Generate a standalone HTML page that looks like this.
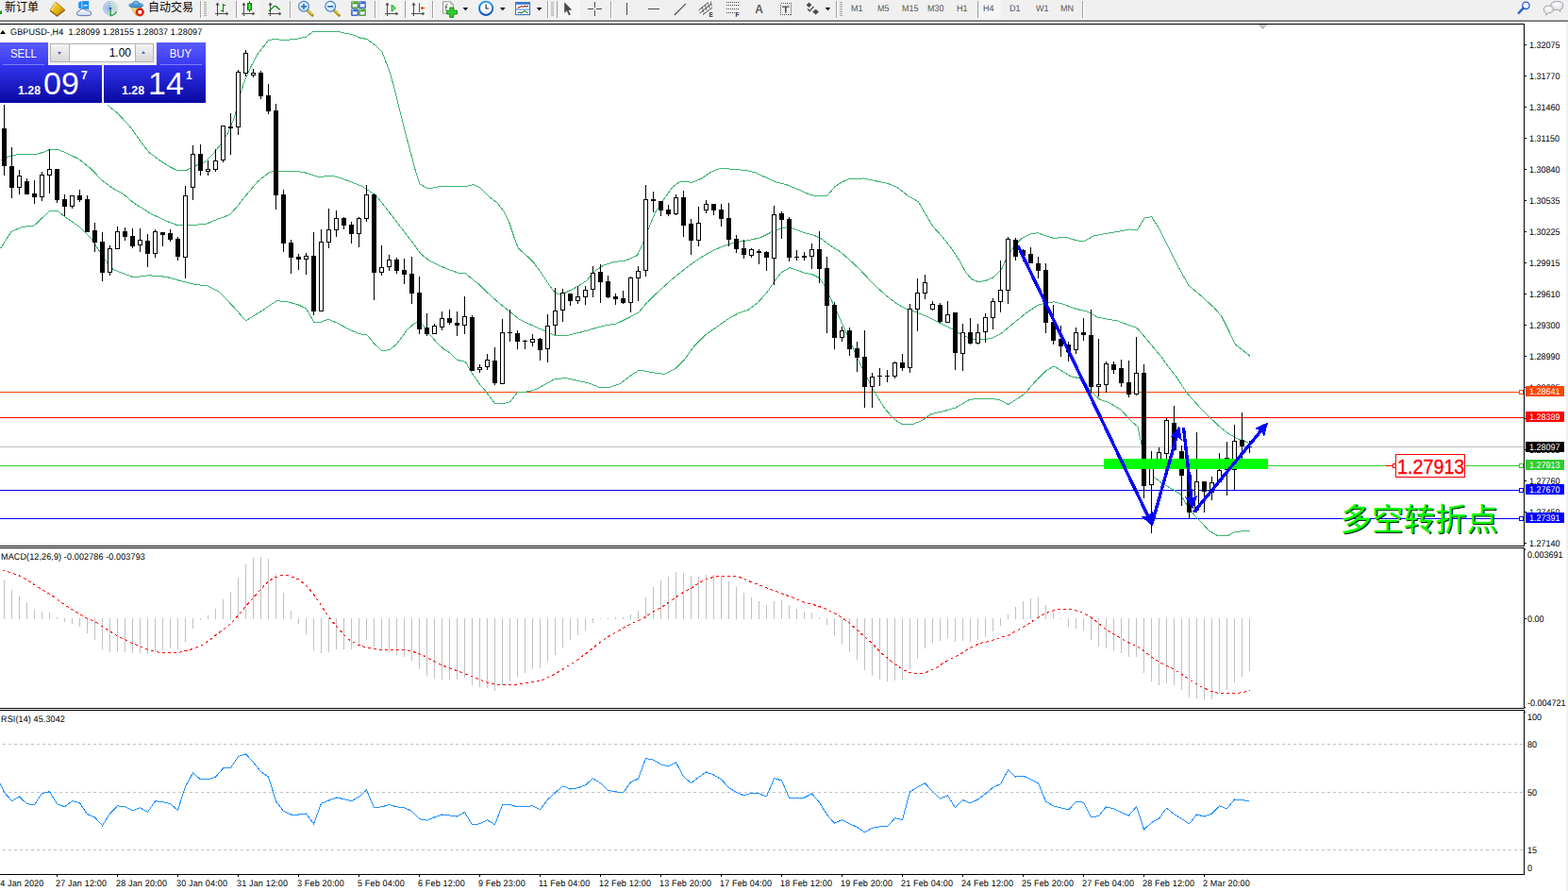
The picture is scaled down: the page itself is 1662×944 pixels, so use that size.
<!DOCTYPE html>
<html><head><meta charset="utf-8"><title>GBPUSD-,H4</title>
<style>
html,body{margin:0;padding:0;background:#fff;}
body{width:1662px;height:944px;position:relative;overflow:hidden;font-family:"Liberation Sans",sans-serif;}
.t{position:absolute;white-space:nowrap;font-family:"Liberation Sans",sans-serif;}
.abs{position:absolute;}
.s9{font-size:9.6px;line-height:10px;text-rendering:geometricPrecision;transform-origin:0 0;transform:scaleX(0.94);}
#toolbar{position:absolute;left:0;top:0;width:1662px;height:21px;background:#f0f0f0;}
.sep{position:absolute;top:1px;width:1px;height:18px;background:#a0a0a0;}
.sepw{position:absolute;top:1px;width:1px;height:18px;background:#fff;}
.grip{position:absolute;top:2px;width:3px;height:16px;background:repeating-linear-gradient(to bottom,#a8a8a8 0,#a8a8a8 1px,#f0f0f0 1px,#f0f0f0 2px);}
.sel{position:absolute;top:0;height:20px;background:#f8f8f8;background-image:repeating-conic-gradient(#ffffff 0 25%,#ececec 0 50%);background-size:2px 2px;}
.tf{position:absolute;top:5px;font-size:9.6px;line-height:10px;text-rendering:geometricPrecision;transform-origin:0 0;transform:scaleX(0.94);color:#555;font-family:"Liberation Sans",sans-serif;}
.btn{position:absolute;color:#fff;text-align:center;font-family:"Liberation Sans",sans-serif;}
</style></head><body>
<div id="toolbar"></div>
<div class="abs" style="left:0;top:20px;width:1662px;height:1px;background:#f6f6f6"></div>
<div class="abs" style="left:0;top:21px;width:1662px;height:1px;background:#a0a0a0"></div>
<div class="abs" style="left:0;top:22px;width:1662px;height:1px;background:#696969"></div>
<!-- toolbar separators / selections -->
<div class="sep" style="left:212px"></div><div class="sepw" style="left:213px"></div>
<div class="grip" style="left:216px"></div>
<div class="sel" style="left:251px;width:24px"></div>
<div class="sep" style="left:250px"></div>
<div class="sep" style="left:307px"></div><div class="sepw" style="left:308px"></div>
<div class="sep" style="left:397px"></div><div class="sepw" style="left:398px"></div>
<div class="sel" style="left:403px;width:24px"></div>
<div class="sep" style="left:429px"></div>
<div class="sel" style="left:431px;width:24px"></div>
<div class="sep" style="left:458px"></div><div class="sepw" style="left:459px"></div>
<div class="sep" style="left:580px"></div><div class="sepw" style="left:581px"></div>
<div class="grip" style="left:584px"></div>
<div class="sep" style="left:590px"></div>
<div class="sel" style="left:592px;width:23px"></div>
<div class="sep" style="left:647px"></div><div class="sepw" style="left:648px"></div>
<div class="sep" style="left:886px"></div><div class="sepw" style="left:887px"></div>
<div class="grip" style="left:890px"></div>
<div class="sep" style="left:1036px"></div>
<div class="sel" style="left:1038px;width:23px"></div>
<div class="sep" style="left:1147px"></div><div class="sepw" style="left:1148px"></div>
<div class="tf" style="left:902px">M1</div>
<div class="tf" style="left:930px">M5</div>
<div class="tf" style="left:956px">M15</div>
<div class="tf" style="left:983px">M30</div>
<div class="tf" style="left:1014px">H1</div>
<div class="tf" style="left:1042px">H4</div>
<div class="tf" style="left:1070px">D1</div>
<div class="tf" style="left:1098px">W1</div>
<div class="tf" style="left:1124px">MN</div>

<svg width="1662" height="944" viewBox="0 0 1662 944" shape-rendering="crispEdges" style="position:absolute;left:0;top:0"><rect x="0" y="415" width="1615" height="1" fill="#ff4500" />
<rect x="0" y="442" width="1615" height="1" fill="#ff0000" />
<rect x="0" y="493" width="1615" height="1" fill="#32cd32" />
<rect x="0" y="519" width="1615" height="1" fill="#0000ff" />
<rect x="0" y="549" width="1615" height="1" fill="#0000ff" />
<polyline points="114.4,111.6 125.7,120.9 138.2,134.6 150.7,152.2 158.2,161.7 170.7,170.9 180.7,177.2 188.2,180.7 197.0,180.9 203.3,177.2 218.3,170.9 225.8,163.4 234.5,152.2 242.1,139.6 248.3,124.6 253.3,104.6 258.3,88.3 265.8,70.8 273.3,57.0 284.6,42.5 290.9,41.5 300.9,42.5 313.4,41.5 324.7,39.0 332.2,33.3 345.9,33.3 361.0,34.0 376.0,37.5 380.5,39.8 389.4,41.6 398.3,48.3 405.0,55.0 413.9,78.3 422.8,112.8 431.7,148.4 440.6,181.8 445.0,195.1 453.9,200.0 465.0,197.8 494.0,197.4 501.7,195.6 508.4,198.5 518.4,208.5 527.3,215.1 534.0,224.0 539.7,235.6 545.2,252.1 549.4,263.1 561.8,274.1 565.9,278.5 572.8,287.9 581.0,300.3 588.4,310.6 595.9,311.8 608.5,305.6 621.0,298.0 631.0,286.8 641.0,280.5 650.5,277.6 663.0,276.1 675.5,270.6 681.8,256.9 688.1,240.6 694.3,225.6 703.1,211.8 713.1,198.0 720.6,192.5 726.9,192.0 733.1,193.5 743.1,189.3 753.1,182.5 763.2,178.5 773.2,179.0 790.7,180.5 800.7,183.0 810.7,187.5 820.7,192.5 833.2,195.5 845.8,200.6 858.3,206.3 867.0,207.8 877.0,207.3 884.6,198.0 892.1,193.0 900.8,189.3 915.8,189.0 928.4,191.8 940.9,194.3 950.9,198.5 963.4,208.1 973.4,213.6 980.9,226.8 988.4,239.3 998.5,250.6 1008.5,263.1 1016.0,274.4 1023.5,288.2 1029.7,295.7 1037.2,298.7 1046.0,296.9 1053.2,293.7 1061.7,285.2 1068.0,270.4 1074.4,261.9 1082.9,252.4 1091.3,248.2 1099.8,246.7 1108.3,249.7 1116.8,252.4 1129.5,251.3 1140.1,254.5 1148.6,256.0 1159.1,249.9 1171.9,247.5 1184.6,245.4 1197.3,242.9 1205.3,243.9 1213.2,230.8 1220.6,229.7 1229.1,242.9 1237.5,259.8 1248.1,281.0 1259.8,302.2 1273.5,313.8 1286.3,325.5 1294.7,335.0 1303.2,352.0 1309.6,365.3 1315.9,370.0 1325.0,377.3" fill="none" stroke="#3cb371" stroke-width="1" />
<polyline points="0.5,170.2 8.8,166.1 17.0,164.0 37.7,163.6 46.0,161.3 52.8,158.5 61.8,158.5 69.4,161.7 83.1,168.2 96.9,179.2 107.9,190.9 119.0,199.2 130.5,205.4 141.5,214.8 159.5,226.2 177.0,234.4 188.5,238.8 201.1,238.8 218.5,237.3 229.5,232.7 243.5,227.5 250.5,220.0 258.3,209.7 273.3,192.2 285.9,182.2 300.9,181.0 320.9,182.2 338.4,187.7 350.9,186.0 361.0,188.5 383.5,197.2 398.5,207.2 410.3,221.8 424.0,239.7 437.8,257.6 446.0,268.9 455.0,276.1 470.9,283.7 486.5,289.5 493.8,290.0 503.3,298.0 506.7,300.3 515.8,309.3 528.4,320.6 540.9,330.6 550.9,338.6 565.9,345.6 578.4,351.1 588.4,355.6 601.0,355.4 616.0,351.9 631.0,347.6 643.5,344.4 653.0,343.2 665.5,337.0 676.8,331.2 685.6,320.7 698.1,308.7 713.1,295.2 728.1,283.2 740.6,274.4 753.1,266.9 765.7,261.1 778.2,256.9 790.7,255.1 805.7,251.9 818.2,245.6 828.2,241.9 835.7,240.6 843.3,243.1 853.3,246.9 863.3,249.4 870.8,253.1 880.8,260.6 890.8,266.9 900.8,275.6 910.8,284.9 920.9,295.7 930.9,305.7 940.9,314.4 950.9,322.0 960.9,327.7 970.9,330.7 983.4,335.7 996.0,342.2 1008.0,348.0 1020.0,355.0 1031.0,359.5 1041.5,360.0 1051.1,358.3 1061.7,353.0 1074.4,342.4 1087.1,331.9 1099.8,323.4 1108.3,321.3 1116.8,319.8 1125.2,321.7 1140.1,327.2 1152.8,330.2 1163.4,336.1 1171.9,337.8 1184.6,339.9 1195.2,344.1 1204.7,347.1 1210.0,353.0 1220.6,365.8 1231.2,378.5 1239.7,390.1 1247.1,399.7 1258.4,416.8 1269.8,429.5 1280.5,440.5 1291.7,451.1 1302.3,459.6 1312.9,465.4 1325.1,469.6" fill="none" stroke="#3cb371" stroke-width="1" />
<polyline points="0.5,263.3 11.9,245.5 23.4,240.4 36.1,239.1 53.1,223.1 60.8,223.1 69.2,230.2 84.4,240.4 97.1,253.1 109.9,273.4 120.0,285.6 141.6,293.8 158.2,291.8 176.0,293.3 188.7,296.8 206.5,301.4 219.2,302.7 231.9,309.0 240.5,317.6 248.0,325.6 260.5,339.8 275.5,330.6 293.1,318.8 303.1,319.3 315.6,322.6 324.4,326.8 333.1,341.9 340.6,341.1 348.1,338.1 358.1,342.6 370.7,349.4 380.7,353.6 389.4,355.1 395.7,363.1 404.5,371.6 413.2,370.6 420.5,364.4 426.2,356.8 431.9,349.1 437.7,343.9 441.9,341.5 448.1,343.9 453.9,352.9 458.6,357.7 463.4,363.4 471.0,370.5 475.8,373.1 484.6,381.4 493.3,383.2 499.6,394.4 508.3,406.9 515.8,415.7 524.6,427.7 533.4,427.7 540.9,425.7 548.4,415.7 559.6,414.9 568.4,412.4 578.4,406.9 588.4,401.4 601.0,400.7 613.5,403.7 623.5,405.7 636.0,410.7 646.0,410.2 656.5,406.9 670.5,396.5 678.0,392.0 690.5,394.5 704.3,396.5 715.6,390.8 725.6,380.8 735.6,367.0 748.1,354.5 760.7,345.7 773.2,337.0 783.2,331.5 793.2,328.2 803.2,320.7 813.2,309.4 820.7,298.2 828.2,288.7 837.0,283.7 843.3,285.7 853.3,289.4 860.8,290.7 868.3,294.4 874.5,303.2 880.8,316.9 887.1,330.7 893.3,344.5 900.8,360.8 908.3,378.3 915.5,393.1 925.5,413.1 938.0,433.1 948.1,444.4 956.8,449.9 968.1,449.4 978.1,445.1 986.9,438.6 1000.6,435.6 1013.1,431.9 1028.2,423.1 1043.2,422.6 1058.2,423.1 1068.7,428.6 1085.7,417.6 1098.2,403.1 1108.3,393.1 1117.0,388.0 1125.8,393.1 1134.5,398.6 1148.3,401.8 1155.8,414.3 1165.8,423.1 1175.8,426.8 1188.4,434.4 1198.4,445.6 1205.9,451.9 1208.9,465.6 1210.9,475.7 1216.5,492.5 1223.4,505.7 1233.4,513.2 1243.4,518.7 1250.9,523.2 1258.4,535.7 1266.0,545.7 1273.5,553.3 1281.0,562.0 1291.0,567.8 1301.0,567.8 1308.5,563.8 1316.5,562.8 1325.0,562.0" fill="none" stroke="#3cb371" stroke-width="1" />
<rect x="0" y="473" width="1615" height="1" fill="#c0c0c0" />
<rect x="4" y="111" width="1" height="75" fill="#000" />
<rect x="2" y="136" width="5" height="40" fill="#000" />
<rect x="12" y="156" width="1" height="54" fill="#000" />
<rect x="10" y="176" width="5" height="23" fill="#000" />
<rect x="20" y="180" width="1" height="26" fill="#000" />
<rect x="18" y="186" width="5" height="13" fill="#000" />
<rect x="19" y="187" width="3" height="11" fill="#fff" />
<rect x="28" y="189" width="1" height="17" fill="#000" />
<rect x="26" y="192" width="5" height="14" fill="#000" />
<rect x="36" y="191" width="1" height="25" fill="#000" />
<rect x="34" y="205" width="5" height="4" fill="#000" />
<rect x="44" y="182" width="1" height="31" fill="#000" />
<rect x="42" y="185" width="5" height="24" fill="#000" />
<rect x="43" y="186" width="3" height="22" fill="#fff" />
<rect x="52" y="158" width="1" height="47" fill="#000" />
<rect x="50" y="179" width="5" height="7" fill="#000" />
<rect x="51" y="180" width="3" height="5" fill="#fff" />
<rect x="60" y="179" width="1" height="36" fill="#000" />
<rect x="58" y="179" width="5" height="33" fill="#000" />
<rect x="68" y="206" width="1" height="23" fill="#000" />
<rect x="66" y="211" width="5" height="8" fill="#000" />
<rect x="76" y="207" width="1" height="14" fill="#000" />
<rect x="74" y="207" width="5" height="12" fill="#000" />
<rect x="75" y="208" width="3" height="10" fill="#fff" />
<rect x="84" y="201" width="1" height="13" fill="#000" />
<rect x="82" y="207" width="5" height="5" fill="#000" />
<rect x="92" y="207" width="1" height="39" fill="#000" />
<rect x="90" y="211" width="5" height="35" fill="#000" />
<rect x="100" y="236" width="1" height="31" fill="#000" />
<rect x="98" y="244" width="5" height="13" fill="#000" />
<rect x="108" y="246" width="1" height="52" fill="#000" />
<rect x="106" y="256" width="5" height="33" fill="#000" />
<rect x="116" y="260" width="1" height="32" fill="#000" />
<rect x="114" y="263" width="5" height="26" fill="#000" />
<rect x="115" y="264" width="3" height="24" fill="#fff" />
<rect x="124" y="240" width="1" height="24" fill="#000" />
<rect x="122" y="245" width="5" height="19" fill="#000" />
<rect x="123" y="246" width="3" height="17" fill="#fff" />
<rect x="132" y="241" width="1" height="14" fill="#000" />
<rect x="130" y="245" width="5" height="6" fill="#000" />
<rect x="140" y="242" width="1" height="21" fill="#000" />
<rect x="138" y="250" width="5" height="11" fill="#000" />
<rect x="148" y="242" width="1" height="25" fill="#000" />
<rect x="146" y="254" width="5" height="6" fill="#000" />
<rect x="147" y="255" width="3" height="4" fill="#fff" />
<rect x="156" y="248" width="1" height="35" fill="#000" />
<rect x="154" y="255" width="5" height="14" fill="#000" />
<rect x="164" y="243" width="1" height="30" fill="#000" />
<rect x="162" y="245" width="5" height="24" fill="#000" />
<rect x="163" y="246" width="3" height="22" fill="#fff" />
<rect x="172" y="246" width="1" height="15" fill="#000" />
<rect x="170" y="246" width="5" height="3" fill="#000" />
<rect x="180" y="243" width="1" height="13" fill="#000" />
<rect x="178" y="247" width="5" height="7" fill="#000" />
<rect x="188" y="251" width="1" height="25" fill="#000" />
<rect x="186" y="253" width="5" height="19" fill="#000" />
<rect x="196" y="197" width="1" height="98" fill="#000" />
<rect x="194" y="207" width="5" height="66" fill="#000" />
<rect x="195" y="208" width="3" height="64" fill="#fff" />
<rect x="204" y="154" width="1" height="58" fill="#000" />
<rect x="202" y="163" width="5" height="36" fill="#000" />
<rect x="203" y="164" width="3" height="34" fill="#fff" />
<rect x="212" y="153" width="1" height="33" fill="#000" />
<rect x="210" y="163" width="5" height="18" fill="#000" />
<rect x="220" y="170" width="1" height="16" fill="#000" />
<rect x="218" y="179" width="5" height="3" fill="#000" />
<rect x="219" y="180" width="3" height="1" fill="#fff" />
<rect x="228" y="158" width="1" height="24" fill="#000" />
<rect x="226" y="170" width="5" height="10" fill="#000" />
<rect x="227" y="171" width="3" height="8" fill="#fff" />
<rect x="236" y="133" width="1" height="39" fill="#000" />
<rect x="234" y="133" width="5" height="37" fill="#000" />
<rect x="235" y="134" width="3" height="35" fill="#fff" />
<rect x="244" y="120" width="1" height="44" fill="#000" />
<rect x="242" y="134" width="5" height="2" fill="#000" />
<rect x="252" y="74" width="1" height="69" fill="#000" />
<rect x="250" y="76" width="5" height="59" fill="#000" />
<rect x="251" y="77" width="3" height="57" fill="#fff" />
<rect x="260" y="53" width="1" height="28" fill="#000" />
<rect x="258" y="56" width="5" height="22" fill="#000" />
<rect x="259" y="57" width="3" height="20" fill="#fff" />
<rect x="268" y="73" width="1" height="9" fill="#000" />
<rect x="266" y="77" width="5" height="3" fill="#000" />
<rect x="267" y="78" width="3" height="1" fill="#fff" />
<rect x="276" y="75" width="1" height="30" fill="#000" />
<rect x="274" y="77" width="5" height="25" fill="#000" />
<rect x="284" y="89" width="1" height="32" fill="#000" />
<rect x="282" y="101" width="5" height="17" fill="#000" />
<rect x="292" y="110" width="1" height="112" fill="#000" />
<rect x="290" y="117" width="5" height="90" fill="#000" />
<rect x="300" y="201" width="1" height="66" fill="#000" />
<rect x="298" y="206" width="5" height="52" fill="#000" />
<rect x="308" y="254" width="1" height="36" fill="#000" />
<rect x="306" y="257" width="5" height="16" fill="#000" />
<rect x="316" y="269" width="1" height="17" fill="#000" />
<rect x="314" y="272" width="5" height="3" fill="#000" />
<rect x="324" y="268" width="1" height="23" fill="#000" />
<rect x="322" y="271" width="5" height="4" fill="#000" />
<rect x="323" y="272" width="3" height="2" fill="#fff" />
<rect x="332" y="246" width="1" height="88" fill="#000" />
<rect x="330" y="271" width="5" height="59" fill="#000" />
<rect x="340" y="243" width="1" height="87" fill="#000" />
<rect x="338" y="256" width="5" height="74" fill="#000" />
<rect x="339" y="257" width="3" height="72" fill="#fff" />
<rect x="348" y="221" width="1" height="42" fill="#000" />
<rect x="346" y="243" width="5" height="14" fill="#000" />
<rect x="347" y="244" width="3" height="12" fill="#fff" />
<rect x="356" y="223" width="1" height="28" fill="#000" />
<rect x="354" y="231" width="5" height="13" fill="#000" />
<rect x="355" y="232" width="3" height="11" fill="#fff" />
<rect x="364" y="230" width="1" height="13" fill="#000" />
<rect x="362" y="231" width="5" height="8" fill="#000" />
<rect x="372" y="235" width="1" height="23" fill="#000" />
<rect x="370" y="238" width="5" height="10" fill="#000" />
<rect x="380" y="230" width="1" height="32" fill="#000" />
<rect x="378" y="231" width="5" height="17" fill="#000" />
<rect x="379" y="232" width="3" height="15" fill="#fff" />
<rect x="388" y="196" width="1" height="39" fill="#000" />
<rect x="386" y="206" width="5" height="26" fill="#000" />
<rect x="387" y="207" width="3" height="24" fill="#fff" />
<rect x="396" y="205" width="1" height="113" fill="#000" />
<rect x="394" y="206" width="5" height="83" fill="#000" />
<rect x="404" y="260" width="1" height="32" fill="#000" />
<rect x="402" y="283" width="5" height="6" fill="#000" />
<rect x="403" y="284" width="3" height="4" fill="#fff" />
<rect x="412" y="270" width="1" height="17" fill="#000" />
<rect x="410" y="275" width="5" height="8" fill="#000" />
<rect x="411" y="276" width="3" height="6" fill="#fff" />
<rect x="420" y="273" width="1" height="17" fill="#000" />
<rect x="418" y="275" width="5" height="12" fill="#000" />
<rect x="428" y="274" width="1" height="27" fill="#000" />
<rect x="426" y="286" width="5" height="5" fill="#000" />
<rect x="436" y="272" width="1" height="50" fill="#000" />
<rect x="434" y="290" width="5" height="21" fill="#000" />
<rect x="444" y="293" width="1" height="61" fill="#000" />
<rect x="442" y="310" width="5" height="39" fill="#000" />
<rect x="452" y="332" width="1" height="24" fill="#000" />
<rect x="450" y="347" width="5" height="7" fill="#000" />
<rect x="460" y="343" width="1" height="11" fill="#000" />
<rect x="458" y="345" width="5" height="9" fill="#000" />
<rect x="459" y="346" width="3" height="7" fill="#fff" />
<rect x="468" y="330" width="1" height="20" fill="#000" />
<rect x="466" y="337" width="5" height="10" fill="#000" />
<rect x="467" y="338" width="3" height="8" fill="#fff" />
<rect x="476" y="328" width="1" height="16" fill="#000" />
<rect x="474" y="337" width="5" height="5" fill="#000" />
<rect x="484" y="330" width="1" height="26" fill="#000" />
<rect x="482" y="342" width="5" height="3" fill="#000" />
<rect x="492" y="314" width="1" height="40" fill="#000" />
<rect x="490" y="335" width="5" height="10" fill="#000" />
<rect x="491" y="336" width="3" height="8" fill="#fff" />
<rect x="500" y="334" width="1" height="59" fill="#000" />
<rect x="498" y="336" width="5" height="57" fill="#000" />
<rect x="508" y="386" width="1" height="9" fill="#000" />
<rect x="506" y="389" width="5" height="3" fill="#000" />
<rect x="507" y="390" width="3" height="1" fill="#fff" />
<rect x="516" y="375" width="1" height="17" fill="#000" />
<rect x="514" y="381" width="5" height="8" fill="#000" />
<rect x="515" y="382" width="3" height="6" fill="#fff" />
<rect x="524" y="368" width="1" height="40" fill="#000" />
<rect x="522" y="382" width="5" height="24" fill="#000" />
<rect x="532" y="338" width="1" height="69" fill="#000" />
<rect x="530" y="352" width="5" height="55" fill="#000" />
<rect x="531" y="353" width="3" height="53" fill="#fff" />
<rect x="540" y="328" width="1" height="34" fill="#000" />
<rect x="538" y="352" width="5" height="1" fill="#000" />
<rect x="548" y="350" width="1" height="20" fill="#000" />
<rect x="546" y="353" width="5" height="9" fill="#000" />
<rect x="556" y="360" width="1" height="10" fill="#000" />
<rect x="554" y="361" width="5" height="1" fill="#000" />
<rect x="564" y="354" width="1" height="13" fill="#000" />
<rect x="562" y="359" width="5" height="4" fill="#000" />
<rect x="563" y="360" width="3" height="2" fill="#fff" />
<rect x="572" y="358" width="1" height="24" fill="#000" />
<rect x="570" y="359" width="5" height="12" fill="#000" />
<rect x="580" y="333" width="1" height="51" fill="#000" />
<rect x="578" y="345" width="5" height="25" fill="#000" />
<rect x="579" y="346" width="3" height="23" fill="#fff" />
<rect x="588" y="305" width="1" height="50" fill="#000" />
<rect x="586" y="329" width="5" height="16" fill="#000" />
<rect x="587" y="330" width="3" height="14" fill="#fff" />
<rect x="596" y="306" width="1" height="35" fill="#000" />
<rect x="594" y="310" width="5" height="19" fill="#000" />
<rect x="595" y="311" width="3" height="17" fill="#fff" />
<rect x="604" y="311" width="1" height="13" fill="#000" />
<rect x="602" y="311" width="5" height="8" fill="#000" />
<rect x="612" y="303" width="1" height="19" fill="#000" />
<rect x="610" y="314" width="5" height="5" fill="#000" />
<rect x="611" y="315" width="3" height="3" fill="#fff" />
<rect x="620" y="303" width="1" height="20" fill="#000" />
<rect x="618" y="307" width="5" height="8" fill="#000" />
<rect x="619" y="308" width="3" height="6" fill="#fff" />
<rect x="628" y="282" width="1" height="33" fill="#000" />
<rect x="626" y="289" width="5" height="18" fill="#000" />
<rect x="627" y="290" width="3" height="16" fill="#fff" />
<rect x="636" y="280" width="1" height="41" fill="#000" />
<rect x="634" y="288" width="5" height="11" fill="#000" />
<rect x="644" y="292" width="1" height="24" fill="#000" />
<rect x="642" y="298" width="5" height="17" fill="#000" />
<rect x="652" y="311" width="1" height="12" fill="#000" />
<rect x="650" y="314" width="5" height="3" fill="#000" />
<rect x="660" y="308" width="1" height="14" fill="#000" />
<rect x="658" y="316" width="5" height="5" fill="#000" />
<rect x="668" y="293" width="1" height="38" fill="#000" />
<rect x="666" y="294" width="5" height="27" fill="#000" />
<rect x="667" y="295" width="3" height="25" fill="#fff" />
<rect x="676" y="282" width="1" height="37" fill="#000" />
<rect x="674" y="287" width="5" height="8" fill="#000" />
<rect x="675" y="288" width="3" height="6" fill="#fff" />
<rect x="684" y="196" width="1" height="97" fill="#000" />
<rect x="682" y="211" width="5" height="76" fill="#000" />
<rect x="683" y="212" width="3" height="74" fill="#fff" />
<rect x="692" y="203" width="1" height="22" fill="#000" />
<rect x="690" y="211" width="5" height="2" fill="#000" />
<rect x="700" y="213" width="1" height="16" fill="#000" />
<rect x="698" y="213" width="5" height="10" fill="#000" />
<rect x="708" y="217" width="1" height="12" fill="#000" />
<rect x="706" y="222" width="5" height="5" fill="#000" />
<rect x="716" y="206" width="1" height="22" fill="#000" />
<rect x="714" y="209" width="5" height="18" fill="#000" />
<rect x="715" y="210" width="3" height="16" fill="#fff" />
<rect x="724" y="202" width="1" height="49" fill="#000" />
<rect x="722" y="209" width="5" height="30" fill="#000" />
<rect x="732" y="232" width="1" height="38" fill="#000" />
<rect x="730" y="237" width="5" height="18" fill="#000" />
<rect x="740" y="219" width="1" height="42" fill="#000" />
<rect x="738" y="236" width="5" height="19" fill="#000" />
<rect x="739" y="237" width="3" height="17" fill="#fff" />
<rect x="748" y="212" width="1" height="14" fill="#000" />
<rect x="746" y="216" width="5" height="7" fill="#000" />
<rect x="747" y="217" width="3" height="5" fill="#fff" />
<rect x="756" y="216" width="1" height="12" fill="#000" />
<rect x="754" y="216" width="5" height="7" fill="#000" />
<rect x="764" y="216" width="1" height="24" fill="#000" />
<rect x="762" y="222" width="5" height="10" fill="#000" />
<rect x="772" y="215" width="1" height="46" fill="#000" />
<rect x="770" y="231" width="5" height="23" fill="#000" />
<rect x="780" y="249" width="1" height="19" fill="#000" />
<rect x="778" y="253" width="5" height="11" fill="#000" />
<rect x="788" y="254" width="1" height="20" fill="#000" />
<rect x="786" y="263" width="5" height="7" fill="#000" />
<rect x="796" y="263" width="1" height="10" fill="#000" />
<rect x="794" y="264" width="5" height="7" fill="#000" />
<rect x="795" y="265" width="3" height="5" fill="#fff" />
<rect x="804" y="264" width="1" height="16" fill="#000" />
<rect x="802" y="266" width="5" height="2" fill="#000" />
<rect x="812" y="266" width="1" height="21" fill="#000" />
<rect x="810" y="267" width="5" height="6" fill="#000" />
<rect x="820" y="218" width="1" height="84" fill="#000" />
<rect x="818" y="227" width="5" height="47" fill="#000" />
<rect x="819" y="228" width="3" height="45" fill="#fff" />
<rect x="828" y="224" width="1" height="29" fill="#000" />
<rect x="826" y="226" width="5" height="7" fill="#000" />
<rect x="836" y="230" width="1" height="47" fill="#000" />
<rect x="834" y="232" width="5" height="41" fill="#000" />
<rect x="844" y="265" width="1" height="11" fill="#000" />
<rect x="842" y="272" width="5" height="1" fill="#000" />
<rect x="852" y="267" width="1" height="9" fill="#000" />
<rect x="850" y="271" width="5" height="2" fill="#000" />
<rect x="860" y="258" width="1" height="27" fill="#000" />
<rect x="858" y="264" width="5" height="8" fill="#000" />
<rect x="859" y="265" width="3" height="6" fill="#fff" />
<rect x="868" y="245" width="1" height="55" fill="#000" />
<rect x="866" y="264" width="5" height="21" fill="#000" />
<rect x="876" y="272" width="1" height="81" fill="#000" />
<rect x="874" y="284" width="5" height="40" fill="#000" />
<rect x="884" y="320" width="1" height="50" fill="#000" />
<rect x="882" y="323" width="5" height="35" fill="#000" />
<rect x="892" y="346" width="1" height="16" fill="#000" />
<rect x="890" y="350" width="5" height="8" fill="#000" />
<rect x="891" y="351" width="3" height="6" fill="#fff" />
<rect x="900" y="347" width="1" height="30" fill="#000" />
<rect x="898" y="350" width="5" height="20" fill="#000" />
<rect x="908" y="362" width="1" height="32" fill="#000" />
<rect x="906" y="369" width="5" height="10" fill="#000" />
<rect x="916" y="350" width="1" height="82" fill="#000" />
<rect x="914" y="378" width="5" height="32" fill="#000" />
<rect x="924" y="395" width="1" height="37" fill="#000" />
<rect x="922" y="399" width="5" height="11" fill="#000" />
<rect x="923" y="400" width="3" height="9" fill="#fff" />
<rect x="932" y="390" width="1" height="19" fill="#000" />
<rect x="930" y="398" width="5" height="1" fill="#000" />
<rect x="940" y="392" width="1" height="13" fill="#000" />
<rect x="938" y="398" width="5" height="1" fill="#000" />
<rect x="948" y="383" width="1" height="18" fill="#000" />
<rect x="946" y="384" width="5" height="15" fill="#000" />
<rect x="947" y="385" width="3" height="13" fill="#fff" />
<rect x="956" y="375" width="1" height="18" fill="#000" />
<rect x="954" y="384" width="5" height="6" fill="#000" />
<rect x="964" y="322" width="1" height="73" fill="#000" />
<rect x="962" y="327" width="5" height="63" fill="#000" />
<rect x="963" y="328" width="3" height="61" fill="#fff" />
<rect x="972" y="295" width="1" height="56" fill="#000" />
<rect x="970" y="310" width="5" height="18" fill="#000" />
<rect x="971" y="311" width="3" height="16" fill="#fff" />
<rect x="980" y="291" width="1" height="26" fill="#000" />
<rect x="978" y="299" width="5" height="12" fill="#000" />
<rect x="979" y="300" width="3" height="10" fill="#fff" />
<rect x="988" y="319" width="1" height="10" fill="#000" />
<rect x="986" y="322" width="5" height="6" fill="#000" />
<rect x="987" y="323" width="3" height="4" fill="#fff" />
<rect x="996" y="321" width="1" height="21" fill="#000" />
<rect x="994" y="323" width="5" height="18" fill="#000" />
<rect x="1004" y="319" width="1" height="23" fill="#000" />
<rect x="1002" y="333" width="5" height="9" fill="#000" />
<rect x="1003" y="334" width="3" height="7" fill="#fff" />
<rect x="1012" y="331" width="1" height="61" fill="#000" />
<rect x="1010" y="331" width="5" height="43" fill="#000" />
<rect x="1020" y="343" width="1" height="50" fill="#000" />
<rect x="1018" y="352" width="5" height="23" fill="#000" />
<rect x="1019" y="353" width="3" height="21" fill="#fff" />
<rect x="1028" y="337" width="1" height="28" fill="#000" />
<rect x="1026" y="352" width="5" height="12" fill="#000" />
<rect x="1036" y="343" width="1" height="22" fill="#000" />
<rect x="1034" y="352" width="5" height="12" fill="#000" />
<rect x="1035" y="353" width="3" height="10" fill="#fff" />
<rect x="1044" y="332" width="1" height="31" fill="#000" />
<rect x="1042" y="336" width="5" height="16" fill="#000" />
<rect x="1043" y="337" width="3" height="14" fill="#fff" />
<rect x="1052" y="316" width="1" height="33" fill="#000" />
<rect x="1050" y="319" width="5" height="18" fill="#000" />
<rect x="1051" y="320" width="3" height="16" fill="#fff" />
<rect x="1060" y="276" width="1" height="55" fill="#000" />
<rect x="1058" y="307" width="5" height="13" fill="#000" />
<rect x="1059" y="308" width="3" height="11" fill="#fff" />
<rect x="1068" y="251" width="1" height="71" fill="#000" />
<rect x="1066" y="253" width="5" height="55" fill="#000" />
<rect x="1067" y="254" width="3" height="53" fill="#fff" />
<rect x="1076" y="252" width="1" height="24" fill="#000" />
<rect x="1074" y="254" width="5" height="18" fill="#000" />
<rect x="1084" y="264" width="1" height="13" fill="#000" />
<rect x="1082" y="265" width="5" height="6" fill="#000" />
<rect x="1092" y="262" width="1" height="17" fill="#000" />
<rect x="1090" y="269" width="5" height="10" fill="#000" />
<rect x="1100" y="272" width="1" height="23" fill="#000" />
<rect x="1098" y="279" width="5" height="8" fill="#000" />
<rect x="1108" y="279" width="1" height="74" fill="#000" />
<rect x="1106" y="286" width="5" height="56" fill="#000" />
<rect x="1116" y="323" width="1" height="42" fill="#000" />
<rect x="1114" y="341" width="5" height="20" fill="#000" />
<rect x="1124" y="345" width="1" height="33" fill="#000" />
<rect x="1122" y="359" width="5" height="8" fill="#000" />
<rect x="1132" y="362" width="1" height="21" fill="#000" />
<rect x="1130" y="365" width="5" height="8" fill="#000" />
<rect x="1140" y="347" width="1" height="28" fill="#000" />
<rect x="1138" y="352" width="5" height="19" fill="#000" />
<rect x="1139" y="353" width="3" height="17" fill="#fff" />
<rect x="1148" y="337" width="1" height="24" fill="#000" />
<rect x="1146" y="352" width="5" height="3" fill="#000" />
<rect x="1156" y="328" width="1" height="89" fill="#000" />
<rect x="1154" y="355" width="5" height="55" fill="#000" />
<rect x="1164" y="359" width="1" height="61" fill="#000" />
<rect x="1162" y="407" width="5" height="3" fill="#000" />
<rect x="1163" y="408" width="3" height="1" fill="#fff" />
<rect x="1172" y="383" width="1" height="33" fill="#000" />
<rect x="1170" y="385" width="5" height="23" fill="#000" />
<rect x="1171" y="386" width="3" height="21" fill="#fff" />
<rect x="1180" y="383" width="1" height="13" fill="#000" />
<rect x="1178" y="386" width="5" height="6" fill="#000" />
<rect x="1188" y="381" width="1" height="29" fill="#000" />
<rect x="1186" y="390" width="5" height="16" fill="#000" />
<rect x="1196" y="382" width="1" height="39" fill="#000" />
<rect x="1194" y="405" width="5" height="13" fill="#000" />
<rect x="1204" y="357" width="1" height="62" fill="#000" />
<rect x="1202" y="395" width="5" height="23" fill="#000" />
<rect x="1203" y="396" width="3" height="21" fill="#fff" />
<rect x="1212" y="386" width="1" height="142" fill="#000" />
<rect x="1210" y="395" width="5" height="120" fill="#000" />
<rect x="1220" y="478" width="1" height="87" fill="#000" />
<rect x="1218" y="491" width="5" height="23" fill="#000" />
<rect x="1219" y="492" width="3" height="21" fill="#fff" />
<rect x="1228" y="474" width="1" height="20" fill="#000" />
<rect x="1226" y="479" width="5" height="12" fill="#000" />
<rect x="1227" y="480" width="3" height="10" fill="#fff" />
<rect x="1236" y="443" width="1" height="46" fill="#000" />
<rect x="1234" y="445" width="5" height="36" fill="#000" />
<rect x="1235" y="446" width="3" height="34" fill="#fff" />
<rect x="1244" y="430" width="1" height="47" fill="#000" />
<rect x="1242" y="448" width="5" height="29" fill="#000" />
<rect x="1252" y="472" width="1" height="64" fill="#000" />
<rect x="1250" y="478" width="5" height="26" fill="#000" />
<rect x="1260" y="503" width="1" height="46" fill="#000" />
<rect x="1258" y="503" width="5" height="40" fill="#000" />
<rect x="1268" y="458" width="1" height="85" fill="#000" />
<rect x="1266" y="510" width="5" height="31" fill="#000" />
<rect x="1267" y="511" width="3" height="29" fill="#fff" />
<rect x="1276" y="510" width="1" height="33" fill="#000" />
<rect x="1274" y="510" width="5" height="11" fill="#000" />
<rect x="1284" y="505" width="1" height="25" fill="#000" />
<rect x="1282" y="511" width="5" height="11" fill="#000" />
<rect x="1283" y="512" width="3" height="9" fill="#fff" />
<rect x="1292" y="480" width="1" height="32" fill="#000" />
<rect x="1290" y="498" width="5" height="13" fill="#000" />
<rect x="1291" y="499" width="3" height="11" fill="#fff" />
<rect x="1300" y="468" width="1" height="57" fill="#000" />
<rect x="1298" y="485" width="5" height="13" fill="#000" />
<rect x="1299" y="486" width="3" height="11" fill="#fff" />
<rect x="1308" y="450" width="1" height="69" fill="#000" />
<rect x="1306" y="467" width="5" height="31" fill="#000" />
<rect x="1307" y="468" width="3" height="29" fill="#fff" />
<rect x="1316" y="437" width="1" height="49" fill="#000" />
<rect x="1314" y="466" width="5" height="7" fill="#000" />
<rect x="1324" y="467" width="1" height="13" fill="#000" />
<rect x="1322" y="473" width="5" height="1" fill="#000" />
<rect x="1170" y="486" width="174" height="11" fill="#00ff00" />
<line x1="1079.0" y1="260.5" x2="1217.2" y2="547.6" stroke="#0000ff" stroke-width="3.4"/>
<polygon points="1221.3,556.2 1211.3,548.0 1217.2,547.6 1221.2,543.2" fill="#0000ff" stroke="#0000ff" stroke-width="1.2" stroke-linejoin="miter"/>
<line x1="1221.0" y1="555.0" x2="1247.3" y2="462.0" stroke="#0000ff" stroke-width="3.4"/>
<polygon points="1249.9,452.7 1252.0,465.6 1247.3,462.0 1241.4,462.6" fill="#0000ff" stroke="#0000ff" stroke-width="1.2" stroke-linejoin="miter"/>
<line x1="1254.5" y1="453.0" x2="1263.0" y2="528.8" stroke="#0000ff" stroke-width="3.4"/>
<polygon points="1264.1,538.3 1257.3,527.2 1263.0,528.8 1268.2,526.0" fill="#0000ff" stroke="#0000ff" stroke-width="1.2" stroke-linejoin="miter"/>
<line x1="1265.5" y1="542.5" x2="1337.1" y2="455.8" stroke="#0000ff" stroke-width="3.4"/>
<polygon points="1343.2,448.4 1339.9,461.0 1337.1,455.8 1331.5,454.0" fill="#0000ff" stroke="#0000ff" stroke-width="1.2" stroke-linejoin="miter"/>
<rect x="1610" y="413" width="5" height="5" fill="#ff4500" />
<rect x="1611" y="414" width="3" height="3" fill="#fff" />
<rect x="1610" y="491" width="5" height="5" fill="#32cd32" />
<rect x="1611" y="492" width="3" height="3" fill="#fff" />
<rect x="1610" y="517" width="5" height="5" fill="#0000ff" />
<rect x="1611" y="518" width="3" height="3" fill="#fff" />
<rect x="1610" y="547" width="5" height="5" fill="#0000ff" />
<rect x="1611" y="548" width="3" height="3" fill="#fff" />
<rect x="4" y="615" width="1" height="41" fill="#c0c0c0" />
<rect x="12" y="625" width="1" height="31" fill="#c0c0c0" />
<rect x="20" y="631" width="1" height="25" fill="#c0c0c0" />
<rect x="28" y="639" width="1" height="17" fill="#c0c0c0" />
<rect x="36" y="646" width="1" height="10" fill="#c0c0c0" />
<rect x="44" y="648" width="1" height="8" fill="#c0c0c0" />
<rect x="52" y="649" width="1" height="7" fill="#c0c0c0" />
<rect x="60" y="654" width="1" height="2" fill="#c0c0c0" />
<rect x="68" y="655" width="1" height="4" fill="#c0c0c0" />
<rect x="76" y="655" width="1" height="6" fill="#c0c0c0" />
<rect x="84" y="655" width="1" height="9" fill="#c0c0c0" />
<rect x="92" y="655" width="1" height="16" fill="#c0c0c0" />
<rect x="100" y="655" width="1" height="23" fill="#c0c0c0" />
<rect x="108" y="655" width="1" height="33" fill="#c0c0c0" />
<rect x="116" y="655" width="1" height="36" fill="#c0c0c0" />
<rect x="124" y="655" width="1" height="36" fill="#c0c0c0" />
<rect x="132" y="655" width="1" height="36" fill="#c0c0c0" />
<rect x="140" y="655" width="1" height="37" fill="#c0c0c0" />
<rect x="148" y="655" width="1" height="37" fill="#c0c0c0" />
<rect x="156" y="655" width="1" height="38" fill="#c0c0c0" />
<rect x="164" y="655" width="1" height="35" fill="#c0c0c0" />
<rect x="172" y="655" width="1" height="34" fill="#c0c0c0" />
<rect x="180" y="655" width="1" height="32" fill="#c0c0c0" />
<rect x="188" y="655" width="1" height="33" fill="#c0c0c0" />
<rect x="196" y="655" width="1" height="25" fill="#c0c0c0" />
<rect x="204" y="655" width="1" height="11" fill="#c0c0c0" />
<rect x="212" y="655" width="1" height="2" fill="#c0c0c0" />
<rect x="220" y="652" width="1" height="4" fill="#c0c0c0" />
<rect x="228" y="645" width="1" height="11" fill="#c0c0c0" />
<rect x="236" y="635" width="1" height="21" fill="#c0c0c0" />
<rect x="244" y="627" width="1" height="29" fill="#c0c0c0" />
<rect x="252" y="612" width="1" height="44" fill="#c0c0c0" />
<rect x="260" y="598" width="1" height="58" fill="#c0c0c0" />
<rect x="268" y="591" width="1" height="65" fill="#c0c0c0" />
<rect x="276" y="590" width="1" height="66" fill="#c0c0c0" />
<rect x="284" y="592" width="1" height="64" fill="#c0c0c0" />
<rect x="292" y="608" width="1" height="48" fill="#c0c0c0" />
<rect x="300" y="628" width="1" height="28" fill="#c0c0c0" />
<rect x="308" y="647" width="1" height="9" fill="#c0c0c0" />
<rect x="316" y="655" width="1" height="6" fill="#c0c0c0" />
<rect x="324" y="655" width="1" height="17" fill="#c0c0c0" />
<rect x="332" y="655" width="1" height="34" fill="#c0c0c0" />
<rect x="340" y="655" width="1" height="37" fill="#c0c0c0" />
<rect x="348" y="655" width="1" height="36" fill="#c0c0c0" />
<rect x="356" y="655" width="1" height="33" fill="#c0c0c0" />
<rect x="364" y="655" width="1" height="33" fill="#c0c0c0" />
<rect x="372" y="655" width="1" height="33" fill="#c0c0c0" />
<rect x="380" y="655" width="1" height="29" fill="#c0c0c0" />
<rect x="388" y="655" width="1" height="23" fill="#c0c0c0" />
<rect x="396" y="655" width="1" height="30" fill="#c0c0c0" />
<rect x="404" y="655" width="1" height="33" fill="#c0c0c0" />
<rect x="412" y="655" width="1" height="36" fill="#c0c0c0" />
<rect x="420" y="655" width="1" height="39" fill="#c0c0c0" />
<rect x="428" y="655" width="1" height="41" fill="#c0c0c0" />
<rect x="436" y="655" width="1" height="45" fill="#c0c0c0" />
<rect x="444" y="655" width="1" height="54" fill="#c0c0c0" />
<rect x="452" y="655" width="1" height="61" fill="#c0c0c0" />
<rect x="460" y="655" width="1" height="64" fill="#c0c0c0" />
<rect x="468" y="655" width="1" height="65" fill="#c0c0c0" />
<rect x="476" y="655" width="1" height="65" fill="#c0c0c0" />
<rect x="484" y="655" width="1" height="65" fill="#c0c0c0" />
<rect x="492" y="655" width="1" height="63" fill="#c0c0c0" />
<rect x="500" y="655" width="1" height="71" fill="#c0c0c0" />
<rect x="508" y="655" width="1" height="73" fill="#c0c0c0" />
<rect x="516" y="655" width="1" height="74" fill="#c0c0c0" />
<rect x="524" y="655" width="1" height="77" fill="#c0c0c0" />
<rect x="532" y="655" width="1" height="71" fill="#c0c0c0" />
<rect x="540" y="655" width="1" height="67" fill="#c0c0c0" />
<rect x="548" y="655" width="1" height="62" fill="#c0c0c0" />
<rect x="556" y="655" width="1" height="58" fill="#c0c0c0" />
<rect x="564" y="655" width="1" height="54" fill="#c0c0c0" />
<rect x="572" y="655" width="1" height="53" fill="#c0c0c0" />
<rect x="580" y="655" width="1" height="46" fill="#c0c0c0" />
<rect x="588" y="655" width="1" height="39" fill="#c0c0c0" />
<rect x="596" y="655" width="1" height="31" fill="#c0c0c0" />
<rect x="604" y="655" width="1" height="23" fill="#c0c0c0" />
<rect x="612" y="655" width="1" height="18" fill="#c0c0c0" />
<rect x="620" y="655" width="1" height="13" fill="#c0c0c0" />
<rect x="628" y="655" width="1" height="5" fill="#c0c0c0" />
<rect x="636" y="655" width="1" height="1" fill="#c0c0c0" />
<rect x="644" y="655" width="1" height="1" fill="#c0c0c0" />
<rect x="652" y="654" width="1" height="2" fill="#c0c0c0" />
<rect x="660" y="654" width="1" height="2" fill="#c0c0c0" />
<rect x="668" y="651" width="1" height="5" fill="#c0c0c0" />
<rect x="676" y="647" width="1" height="9" fill="#c0c0c0" />
<rect x="684" y="633" width="1" height="23" fill="#c0c0c0" />
<rect x="692" y="622" width="1" height="34" fill="#c0c0c0" />
<rect x="700" y="615" width="1" height="41" fill="#c0c0c0" />
<rect x="708" y="611" width="1" height="45" fill="#c0c0c0" />
<rect x="716" y="606" width="1" height="50" fill="#c0c0c0" />
<rect x="724" y="607" width="1" height="49" fill="#c0c0c0" />
<rect x="732" y="610" width="1" height="46" fill="#c0c0c0" />
<rect x="740" y="611" width="1" height="45" fill="#c0c0c0" />
<rect x="748" y="609" width="1" height="47" fill="#c0c0c0" />
<rect x="756" y="609" width="1" height="47" fill="#c0c0c0" />
<rect x="764" y="611" width="1" height="45" fill="#c0c0c0" />
<rect x="772" y="616" width="1" height="40" fill="#c0c0c0" />
<rect x="780" y="622" width="1" height="34" fill="#c0c0c0" />
<rect x="788" y="628" width="1" height="28" fill="#c0c0c0" />
<rect x="796" y="633" width="1" height="23" fill="#c0c0c0" />
<rect x="804" y="637" width="1" height="19" fill="#c0c0c0" />
<rect x="812" y="641" width="1" height="15" fill="#c0c0c0" />
<rect x="820" y="637" width="1" height="19" fill="#c0c0c0" />
<rect x="828" y="636" width="1" height="20" fill="#c0c0c0" />
<rect x="836" y="641" width="1" height="15" fill="#c0c0c0" />
<rect x="844" y="645" width="1" height="11" fill="#c0c0c0" />
<rect x="852" y="648" width="1" height="8" fill="#c0c0c0" />
<rect x="860" y="649" width="1" height="7" fill="#c0c0c0" />
<rect x="868" y="654" width="1" height="2" fill="#c0c0c0" />
<rect x="876" y="655" width="1" height="7" fill="#c0c0c0" />
<rect x="884" y="655" width="1" height="19" fill="#c0c0c0" />
<rect x="892" y="655" width="1" height="27" fill="#c0c0c0" />
<rect x="900" y="655" width="1" height="36" fill="#c0c0c0" />
<rect x="908" y="655" width="1" height="44" fill="#c0c0c0" />
<rect x="916" y="655" width="1" height="55" fill="#c0c0c0" />
<rect x="924" y="655" width="1" height="61" fill="#c0c0c0" />
<rect x="932" y="655" width="1" height="65" fill="#c0c0c0" />
<rect x="940" y="655" width="1" height="67" fill="#c0c0c0" />
<rect x="948" y="655" width="1" height="66" fill="#c0c0c0" />
<rect x="956" y="655" width="1" height="65" fill="#c0c0c0" />
<rect x="964" y="655" width="1" height="54" fill="#c0c0c0" />
<rect x="972" y="655" width="1" height="43" fill="#c0c0c0" />
<rect x="980" y="655" width="1" height="32" fill="#c0c0c0" />
<rect x="988" y="655" width="1" height="26" fill="#c0c0c0" />
<rect x="996" y="655" width="1" height="24" fill="#c0c0c0" />
<rect x="1004" y="655" width="1" height="21" fill="#c0c0c0" />
<rect x="1012" y="655" width="1" height="25" fill="#c0c0c0" />
<rect x="1020" y="655" width="1" height="24" fill="#c0c0c0" />
<rect x="1028" y="655" width="1" height="25" fill="#c0c0c0" />
<rect x="1036" y="655" width="1" height="23" fill="#c0c0c0" />
<rect x="1044" y="655" width="1" height="20" fill="#c0c0c0" />
<rect x="1052" y="655" width="1" height="14" fill="#c0c0c0" />
<rect x="1060" y="655" width="1" height="8" fill="#c0c0c0" />
<rect x="1068" y="651" width="1" height="5" fill="#c0c0c0" />
<rect x="1076" y="643" width="1" height="13" fill="#c0c0c0" />
<rect x="1084" y="637" width="1" height="19" fill="#c0c0c0" />
<rect x="1092" y="634" width="1" height="22" fill="#c0c0c0" />
<rect x="1100" y="633" width="1" height="23" fill="#c0c0c0" />
<rect x="1108" y="641" width="1" height="15" fill="#c0c0c0" />
<rect x="1116" y="649" width="1" height="7" fill="#c0c0c0" />
<rect x="1124" y="655" width="1" height="1" fill="#c0c0c0" />
<rect x="1132" y="655" width="1" height="9" fill="#c0c0c0" />
<rect x="1140" y="655" width="1" height="11" fill="#c0c0c0" />
<rect x="1148" y="655" width="1" height="13" fill="#c0c0c0" />
<rect x="1156" y="655" width="1" height="23" fill="#c0c0c0" />
<rect x="1164" y="655" width="1" height="30" fill="#c0c0c0" />
<rect x="1172" y="655" width="1" height="32" fill="#c0c0c0" />
<rect x="1180" y="655" width="1" height="34" fill="#c0c0c0" />
<rect x="1188" y="655" width="1" height="37" fill="#c0c0c0" />
<rect x="1196" y="655" width="1" height="41" fill="#c0c0c0" />
<rect x="1204" y="655" width="1" height="41" fill="#c0c0c0" />
<rect x="1212" y="655" width="1" height="58" fill="#c0c0c0" />
<rect x="1220" y="655" width="1" height="67" fill="#c0c0c0" />
<rect x="1228" y="655" width="1" height="71" fill="#c0c0c0" />
<rect x="1236" y="655" width="1" height="69" fill="#c0c0c0" />
<rect x="1244" y="655" width="1" height="71" fill="#c0c0c0" />
<rect x="1252" y="655" width="1" height="76" fill="#c0c0c0" />
<rect x="1260" y="655" width="1" height="84" fill="#c0c0c0" />
<rect x="1268" y="655" width="1" height="85" fill="#c0c0c0" />
<rect x="1276" y="655" width="1" height="87" fill="#c0c0c0" />
<rect x="1284" y="655" width="1" height="86" fill="#c0c0c0" />
<rect x="1292" y="655" width="1" height="80" fill="#c0c0c0" />
<rect x="1300" y="655" width="1" height="76" fill="#c0c0c0" />
<rect x="1308" y="655" width="1" height="68" fill="#c0c0c0" />
<rect x="1316" y="655" width="1" height="62" fill="#c0c0c0" />
<rect x="1324" y="655" width="1" height="56" fill="#c0c0c0" />
<polyline points="2.5,603.9 12.8,607.1 21.0,610.2 29.1,614.9 39.4,621.5 51.6,628.6 61.9,635.8 70.1,641.9 82.3,649.1 92.6,655.2 100.7,658.7 111.0,665.4 123.2,673.0 135.5,679.2 147.8,684.9 160.1,689.4 170.3,691.4 188.7,691.6 201.0,688.6 213.3,683.9 221.4,678.7 231.7,670.6 244.0,661.4 254.2,650.1 264.4,637.8 274.6,626.6 284.9,615.3 293.1,611.2 300.2,609.2 307.4,610.2 317.6,614.3 325.8,621.5 334.0,631.7 340.5,641.5 344.7,648.1 352.9,659.3 361.0,668.5 369.2,677.3 379.5,683.2 389.7,686.5 402.0,688.0 424.5,688.0 436.7,690.0 447.0,693.7 459.2,700.2 471.5,706.0 483.8,710.5 494.0,714.5 502.2,717.2 512.4,721.7 520.6,724.4 528.8,725.2 549.3,725.0 561.5,723.1 573.8,721.1 586.1,715.2 598.4,707.8 610.6,700.2 622.9,691.0 633.1,682.8 643.4,675.3 655.6,668.1 665.9,662.4 674.5,658.5 682.7,654.6 693.0,647.6 701.1,643.6 709.3,637.8 717.5,632.1 725.7,626.6 733.9,622.5 742.1,617.0 750.2,612.9 758.4,611.2 764.6,610.0 774.8,610.0 785.0,611.8 795.2,616.3 807.5,620.8 819.8,625.6 832.1,630.1 844.3,634.8 854.6,638.9 864.8,641.3 875.0,645.0 885.3,650.1 893.4,655.2 901.6,661.4 909.8,668.5 922.1,679.8 934.4,692.0 946.6,702.3 956.9,709.4 965.0,712.9 971.2,713.9 981.4,712.5 991.6,707.8 1001.9,701.3 1010.5,696.7 1018.7,692.5 1029.0,685.9 1039.2,681.4 1049.4,679.2 1059.6,675.7 1067.8,673.6 1078.1,667.9 1088.3,662.4 1098.5,655.2 1108.7,649.7 1116.9,646.6 1126.1,645.2 1135.3,645.8 1145.6,648.1 1155.8,653.8 1164.0,659.9 1172.2,666.9 1182.4,672.6 1192.6,679.2 1204.9,684.9 1213.1,690.0 1221.3,696.5 1231.5,702.9 1241.7,707.8 1252.0,713.9 1262.2,721.1 1272.4,727.2 1282.6,731.9 1292.9,734.8 1309.2,735.0 1317.4,733.4 1325.0,731.7" fill="none" stroke="#ff0000" stroke-width="1" stroke-dasharray="3 3"/>
<line x1="3" y1="788.5" x2="1615" y2="788.5" stroke="#c0c0c0" stroke-width="1" stroke-dasharray="3 3"/>
<line x1="3" y1="839.5" x2="1615" y2="839.5" stroke="#c0c0c0" stroke-width="1" stroke-dasharray="3 3"/>
<line x1="3" y1="900.5" x2="1615" y2="900.5" stroke="#c0c0c0" stroke-width="1" stroke-dasharray="3 3"/>
<polyline points="0.0,830.0 4.5,839.4 12.5,848.7 20.5,843.9 28.5,851.7 36.5,852.7 44.5,840.5 52.5,838.8 60.5,851.7 68.5,854.8 76.5,848.7 84.5,850.7 92.5,862.6 100.5,866.0 108.5,874.8 116.5,862.0 124.5,853.8 132.5,854.8 140.5,858.9 148.5,855.8 156.5,860.5 164.5,848.7 172.5,849.7 180.5,851.7 188.5,858.5 196.5,833.3 204.5,819.0 212.5,825.7 220.5,825.7 228.5,823.1 236.5,813.9 244.5,813.5 252.5,801.6 260.5,798.9 268.5,807.7 276.5,817.6 284.5,823.1 292.5,848.7 300.5,859.5 308.5,863.0 316.5,863.0 324.5,862.0 332.5,872.8 340.5,851.3 348.5,848.0 356.5,845.0 364.5,846.6 372.5,848.7 380.5,844.2 388.5,837.0 396.5,855.8 404.5,854.8 412.5,852.7 420.5,854.8 428.5,855.8 436.5,859.3 444.5,867.7 452.5,869.1 460.5,866.0 468.5,863.0 476.5,864.0 484.5,865.0 492.5,860.5 500.5,873.8 508.5,872.8 516.5,868.7 524.5,873.8 532.5,852.7 540.5,852.7 548.5,854.8 556.5,854.8 564.5,853.6 572.5,857.9 580.5,847.0 588.5,839.9 596.5,832.7 604.5,836.0 612.5,834.7 620.5,831.9 628.5,824.7 636.5,829.8 644.5,837.4 652.5,838.8 660.5,839.9 668.5,828.8 676.5,825.1 684.5,803.6 692.5,805.1 700.5,809.8 708.5,811.8 716.5,807.7 724.5,822.7 732.5,829.6 740.5,823.5 748.5,818.0 756.5,821.0 764.5,825.7 772.5,834.7 780.5,839.4 788.5,842.9 796.5,840.1 804.5,840.9 812.5,843.9 820.5,824.7 828.5,826.8 836.5,845.0 844.5,845.0 852.5,845.0 860.5,840.9 868.5,850.1 876.5,863.0 884.5,872.2 892.5,868.7 900.5,872.8 908.5,876.3 916.5,881.8 924.5,877.3 932.5,875.9 940.5,875.9 948.5,866.7 956.5,868.7 964.5,838.8 972.5,833.9 980.5,829.8 988.5,838.8 996.5,846.2 1004.5,842.9 1012.5,855.8 1020.5,847.6 1028.5,850.9 1036.5,847.0 1044.5,840.9 1052.5,834.3 1060.5,830.7 1068.5,815.9 1076.5,823.1 1084.5,822.1 1092.5,825.7 1100.5,829.6 1108.5,849.1 1116.5,853.8 1124.5,855.8 1132.5,857.9 1140.5,849.7 1148.5,850.1 1156.5,866.0 1164.5,864.6 1172.5,854.8 1180.5,856.8 1188.5,860.9 1196.5,864.0 1204.5,854.8 1212.5,878.9 1220.5,871.6 1228.5,867.1 1236.5,856.2 1244.5,862.6 1252.5,867.5 1260.5,872.8 1268.5,863.0 1276.5,865.0 1284.5,862.0 1292.5,853.8 1300.5,856.8 1308.5,847.0 1316.5,847.6 1324.5,849.1" fill="none" stroke="#1e90ff" stroke-width="1" />
<rect x="0" y="25" width="1616" height="1" fill="#000" />
<rect x="0" y="578" width="1616" height="1" fill="#000" />
<rect x="1615" y="25" width="1" height="554" fill="#000" />
<rect x="0" y="580" width="1616" height="1" fill="#000" />
<rect x="0" y="750" width="1616" height="1" fill="#000" />
<rect x="1615" y="580" width="1" height="171" fill="#000" />
<rect x="0" y="752" width="1616" height="1" fill="#000" />
<rect x="0" y="926" width="1616" height="1" fill="#000" />
<rect x="1615" y="752" width="1" height="175" fill="#000" />
<rect x="1616" y="47" width="2" height="1" fill="#000" />
<rect x="1616" y="80" width="2" height="1" fill="#000" />
<rect x="1616" y="113" width="2" height="1" fill="#000" />
<rect x="1616" y="146" width="2" height="1" fill="#000" />
<rect x="1616" y="179" width="2" height="1" fill="#000" />
<rect x="1616" y="212" width="2" height="1" fill="#000" />
<rect x="1616" y="245" width="2" height="1" fill="#000" />
<rect x="1616" y="278" width="2" height="1" fill="#000" />
<rect x="1616" y="311" width="2" height="1" fill="#000" />
<rect x="1616" y="344" width="2" height="1" fill="#000" />
<rect x="1616" y="377" width="2" height="1" fill="#000" />
<rect x="1616" y="410" width="2" height="1" fill="#000" />
<rect x="1616" y="443" width="2" height="1" fill="#000" />
<rect x="1616" y="476" width="2" height="1" fill="#000" />
<rect x="1616" y="509" width="2" height="1" fill="#000" />
<rect x="1616" y="542" width="2" height="1" fill="#000" />
<rect x="1616" y="575" width="2" height="1" fill="#000" />
<rect x="1616" y="582" width="1" height="1" fill="#000" />
<rect x="1616" y="655" width="2" height="1" fill="#000" />
<rect x="1616" y="749" width="1" height="1" fill="#000" />
<rect x="1616" y="754" width="1" height="1" fill="#000" />
<rect x="60" y="927" width="1" height="2" fill="#000" />
<rect x="124" y="927" width="1" height="2" fill="#000" />
<rect x="188" y="927" width="1" height="2" fill="#000" />
<rect x="252" y="927" width="1" height="2" fill="#000" />
<rect x="316" y="927" width="1" height="2" fill="#000" />
<rect x="380" y="927" width="1" height="2" fill="#000" />
<rect x="444" y="927" width="1" height="2" fill="#000" />
<rect x="508" y="927" width="1" height="2" fill="#000" />
<rect x="572" y="927" width="1" height="2" fill="#000" />
<rect x="636" y="927" width="1" height="2" fill="#000" />
<rect x="700" y="927" width="1" height="2" fill="#000" />
<rect x="764" y="927" width="1" height="2" fill="#000" />
<rect x="828" y="927" width="1" height="2" fill="#000" />
<rect x="892" y="927" width="1" height="2" fill="#000" />
<rect x="956" y="927" width="1" height="2" fill="#000" />
<rect x="1020" y="927" width="1" height="2" fill="#000" />
<rect x="1084" y="927" width="1" height="2" fill="#000" />
<rect x="1148" y="927" width="1" height="2" fill="#000" />
<rect x="1212" y="927" width="1" height="2" fill="#000" />
<rect x="1276" y="927" width="1" height="2" fill="#000" />
<rect x="1660" y="23" width="2" height="921" fill="#f0f0f0" /></svg>

<!-- chart title -->
<div class="abs" style="left:0;top:32px;width:0;height:0;border-left:3px solid transparent;border-right:3px solid transparent;border-bottom:4px solid #000"></div>
<div class="t s9" id="title" style="left:11px;top:30px;color:#000;letter-spacing:0.13px">GBPUSD-,H4&nbsp; 1.28099 1.28155 1.28037 1.28097</div>
<div class="t s9" id="macdt" style="left:1px;top:586px;color:#000;letter-spacing:0.13px">MACD(12,26,9) -0.002786 -0.003793</div>
<div class="t s9" id="rsit" style="left:1px;top:758px;color:#000;letter-spacing:0.13px">RSI(14) 45.3042</div>

<!-- one click trading panel -->
<div class="abs" style="left:0;top:45px;width:218px;height:64px;background:#fff"></div>
<div class="btn" style="left:0;top:45px;width:51px;height:24px;background:linear-gradient(#5a5aff,#3a3af0);font-size:13px;line-height:24px;"><span style="display:inline-block;transform:scaleX(0.87);position:relative;left:-1px">SELL</span></div>
<div class="btn" style="left:166px;top:45px;width:52px;height:24px;background:linear-gradient(#5a5aff,#3a3af0);font-size:13px;line-height:24px;"><span style="display:inline-block;transform:scaleX(0.87);position:relative;left:-1px">BUY</span></div>
<div class="abs" style="left:3px;top:68px;width:44px;height:2px;background:#7c7cf6"></div>
<div class="abs" style="left:170px;top:68px;width:44px;height:2px;background:#7c7cf6"></div>
<div class="abs" style="left:51px;top:45px;width:115px;height:24px;background:#f0f0f0"></div>
<div class="abs" style="left:53px;top:46px;width:110px;height:20px;background:#fff;border:1px solid #b4b4b4;box-sizing:border-box"></div>
<div class="abs" style="left:54px;top:47px;width:20px;height:18px;background:linear-gradient(#f4f4f4,#d8d8d8);border-right:1px solid #b4b4b4;box-sizing:border-box"></div>
<div class="abs" style="left:143px;top:47px;width:19px;height:18px;background:linear-gradient(#f4f4f4,#d8d8d8);border-left:1px solid #b4b4b4;box-sizing:border-box"></div>
<div class="abs" style="left:61px;top:55px;width:0;height:0;border-left:2.5px solid transparent;border-right:2.5px solid transparent;border-top:3px solid #5068b8"></div>
<div class="abs" style="left:150px;top:54px;width:0;height:0;border-left:2.5px solid transparent;border-right:2.5px solid transparent;border-bottom:3px solid #5068b8"></div>
<div class="t" style="left:100px;top:49px;width:39px;text-align:right;font-size:12px;line-height:14px;color:#000">1.00</div>
<div class="abs" style="left:0;top:69px;width:108px;height:40px;background:linear-gradient(#3434ee,#0808a0)"></div>
<div class="abs" style="left:110px;top:69px;width:108px;height:40px;background:linear-gradient(#3434ee,#0808a0)"></div>
<div class="t" style="left:19px;top:90px;font-size:12px;line-height:12px;color:#fff;font-weight:bold;transform-origin:0 0;transform:scaleX(1.03)">1.28</div>
<div class="t" style="left:46px;top:71px;font-size:34px;line-height:34px;color:#fff;transform-origin:0 0;transform:scaleX(1)">09</div>
<div class="t" style="left:86px;top:74px;font-size:12px;line-height:12px;color:#fff;font-weight:bold">7</div>
<div class="t" style="left:129px;top:90px;font-size:12px;line-height:12px;color:#fff;font-weight:bold;transform-origin:0 0;transform:scaleX(1.03)">1.28</div>
<div class="t" style="left:157px;top:71px;font-size:34px;line-height:34px;color:#fff;transform-origin:0 0;transform:scaleX(1)">14</div>
<div class="t" style="left:197px;top:74px;font-size:12px;line-height:12px;color:#fff;font-weight:bold">1</div>

<!-- red price label -->
<div class="abs" style="left:1469px;top:493px;width:8px;height:1px;background:#ff0000"></div>
<div class="abs" style="left:1476px;top:491px;width:4px;height:5px;border:1px solid #ff0000;background:#fff;box-sizing:border-box"></div>
<div class="abs" style="left:1479px;top:481px;width:74px;height:25px;border:1px solid #ff0000;background:#fff;box-sizing:border-box"></div>
<div class="t" id="redlbl" style="left:1480.6px;top:483.5px;font-size:21.5px;line-height:22px;color:#ff0000;-webkit-text-stroke:0.35px #ff0000;transform-origin:0 0;transform:scaleX(0.918)">1.27913</div>

<div class="t s9 " style="left:1621px;top:44px;color:#000;">1.32075</div>
<div class="t s9 " style="left:1621px;top:77px;color:#000;">1.31770</div>
<div class="t s9 " style="left:1621px;top:110px;color:#000;">1.31460</div>
<div class="t s9 " style="left:1621px;top:143px;color:#000;">1.31150</div>
<div class="t s9 " style="left:1621px;top:176px;color:#000;">1.30840</div>
<div class="t s9 " style="left:1621px;top:209px;color:#000;">1.30535</div>
<div class="t s9 " style="left:1621px;top:242px;color:#000;">1.30225</div>
<div class="t s9 " style="left:1621px;top:275px;color:#000;">1.29915</div>
<div class="t s9 " style="left:1621px;top:308px;color:#000;">1.29610</div>
<div class="t s9 " style="left:1621px;top:341px;color:#000;">1.29300</div>
<div class="t s9 " style="left:1621px;top:374px;color:#000;">1.28990</div>
<div class="t s9 " style="left:1621px;top:407px;color:#000;">1.28685</div>
<div class="t s9 " style="left:1621px;top:440px;color:#000;">1.28375</div>
<div class="t s9 " style="left:1621px;top:473px;color:#000;">1.28065</div>
<div class="t s9 " style="left:1621px;top:506px;color:#000;">1.27760</div>
<div class="t s9 " style="left:1621px;top:539px;color:#000;">1.27450</div>
<div class="t s9 " style="left:1621px;top:572px;color:#000;">1.27140</div>
<div class="abs" style="left:1617px;top:409px;width:41px;height:11px;background:#ff4500"></div>
<div class="t s9 " style="left:1621px;top:411px;color:#fff;">1.28641</div>
<div class="abs" style="left:1617px;top:436px;width:41px;height:11px;background:#ff0000"></div>
<div class="t s9 " style="left:1621px;top:438px;color:#fff;">1.28389</div>
<div class="abs" style="left:1617px;top:487px;width:41px;height:11px;background:#32cd32"></div>
<div class="t s9 " style="left:1621px;top:489px;color:#fff;">1.27913</div>
<div class="abs" style="left:1617px;top:513px;width:41px;height:11px;background:#0000ff"></div>
<div class="t s9 " style="left:1621px;top:515px;color:#fff;">1.27670</div>
<div class="abs" style="left:1617px;top:543px;width:41px;height:11px;background:#0000ff"></div>
<div class="t s9 " style="left:1621px;top:545px;color:#fff;">1.27391</div>
<div class="abs" style="left:1617px;top:468px;width:41px;height:11px;background:#000"></div>
<div class="t s9 " style="left:1621px;top:470px;color:#fff;">1.28097</div>
<div class="t s9 " style="left:1619px;top:584px;color:#000;">0.003691</div>
<div class="t s9 " style="left:1619px;top:652px;color:#000;">0.00</div>
<div class="t s9 " style="left:1619px;top:741px;color:#000;">-0.004721</div>
<div class="t s9 " style="left:1619px;top:756px;color:#000;">100</div>
<div class="t s9 " style="left:1619px;top:785px;color:#000;">80</div>
<div class="t s9 " style="left:1619px;top:836px;color:#000;">50</div>
<div class="t s9 " style="left:1619px;top:897px;color:#000;">15</div>
<div class="t s9 " style="left:1619px;top:916px;color:#000;">0</div>
<div class="t s9 " style="left:-5px;top:932px;color:#000;letter-spacing:0.17px;">24 Jan 2020</div>
<div class="t s9 " style="left:59px;top:932px;color:#000;letter-spacing:0.17px;">27 Jan 12:00</div>
<div class="t s9 " style="left:123px;top:932px;color:#000;letter-spacing:0.17px;">28 Jan 20:00</div>
<div class="t s9 " style="left:187px;top:932px;color:#000;letter-spacing:0.17px;">30 Jan 04:00</div>
<div class="t s9 " style="left:251px;top:932px;color:#000;letter-spacing:0.17px;">31 Jan 12:00</div>
<div class="t s9 " style="left:315px;top:932px;color:#000;letter-spacing:0.17px;">3 Feb 20:00</div>
<div class="t s9 " style="left:379px;top:932px;color:#000;letter-spacing:0.17px;">5 Feb 04:00</div>
<div class="t s9 " style="left:443px;top:932px;color:#000;letter-spacing:0.17px;">6 Feb 12:00</div>
<div class="t s9 " style="left:507px;top:932px;color:#000;letter-spacing:0.17px;">9 Feb 23:00</div>
<div class="t s9 " style="left:571px;top:932px;color:#000;letter-spacing:0.17px;">11 Feb 04:00</div>
<div class="t s9 " style="left:635px;top:932px;color:#000;letter-spacing:0.17px;">12 Feb 12:00</div>
<div class="t s9 " style="left:699px;top:932px;color:#000;letter-spacing:0.17px;">13 Feb 20:00</div>
<div class="t s9 " style="left:763px;top:932px;color:#000;letter-spacing:0.17px;">17 Feb 04:00</div>
<div class="t s9 " style="left:827px;top:932px;color:#000;letter-spacing:0.17px;">18 Feb 12:00</div>
<div class="t s9 " style="left:891px;top:932px;color:#000;letter-spacing:0.17px;">19 Feb 20:00</div>
<div class="t s9 " style="left:955px;top:932px;color:#000;letter-spacing:0.17px;">21 Feb 04:00</div>
<div class="t s9 " style="left:1019px;top:932px;color:#000;letter-spacing:0.17px;">24 Feb 12:00</div>
<div class="t s9 " style="left:1083px;top:932px;color:#000;letter-spacing:0.17px;">25 Feb 20:00</div>
<div class="t s9 " style="left:1147px;top:932px;color:#000;letter-spacing:0.17px;">27 Feb 04:00</div>
<div class="t s9 " style="left:1211px;top:932px;color:#000;letter-spacing:0.17px;">28 Feb 12:00</div>
<div class="t s9 " style="left:1275px;top:932px;color:#000;letter-spacing:0.17px;">2 Mar 20:00</div>
<svg width="1662" height="944" viewBox="0 0 1662 944" style="position:absolute;left:0;top:0"><text x="1421.8" y="562.7" font-family="'Liberation Sans','Noto Sans CJK SC',sans-serif" font-size="33.5" fill="#082808">多空转折点</text><text x="1420.6" y="561.5" font-family="'Liberation Sans','Noto Sans CJK SC',sans-serif" font-size="33.5" fill="#00ff00">多空转折点</text><text x="5" y="12" font-family="'Liberation Sans','Noto Sans CJK SC',sans-serif" font-size="12" fill="#000">新订单</text><text x="157" y="12" font-family="'Liberation Sans','Noto Sans CJK SC',sans-serif" font-size="12" fill="#000">自动交易</text><defs>
<linearGradient id="gold" x1="0" y1="0" x2="1" y2="1"><stop offset="0" stop-color="#fbe26a"/><stop offset="0.5" stop-color="#e8b818"/><stop offset="1" stop-color="#b07a10"/></linearGradient>
<linearGradient id="srv" x1="0" y1="0" x2="1" y2="0"><stop offset="0" stop-color="#1a8cf0"/><stop offset="0.35" stop-color="#8fd0ff"/><stop offset="0.4" stop-color="#1a8cf0"/><stop offset="1" stop-color="#2aa0ff"/></linearGradient>
<linearGradient id="cloud" x1="0" y1="0" x2="0" y2="1"><stop offset="0" stop-color="#ffffff"/><stop offset="1" stop-color="#c8d4e8"/></linearGradient>
<radialGradient id="lens" cx="0.4" cy="0.35" r="0.7"><stop offset="0" stop-color="#ffffff"/><stop offset="1" stop-color="#b8dcfa"/></radialGradient>
<linearGradient id="grn" x1="0" y1="0" x2="1" y2="0"><stop offset="0" stop-color="#10b010"/><stop offset="0.5" stop-color="#60ff60"/><stop offset="1" stop-color="#10b010"/></linearGradient>
<linearGradient id="hat" x1="0" y1="0" x2="0" y2="1"><stop offset="0" stop-color="#7ec0ee"/><stop offset="1" stop-color="#2a7cc0"/></linearGradient>
<linearGradient id="face" x1="0" y1="0" x2="1" y2="1"><stop offset="0" stop-color="#fff0a0"/><stop offset="1" stop-color="#e8b820"/></linearGradient>
<linearGradient id="clk" x1="0" y1="0" x2="0" y2="1"><stop offset="0" stop-color="#3aa0f0"/><stop offset="1" stop-color="#0c50b0"/></linearGradient>
<linearGradient id="tg" x1="0" y1="0" x2="0" y2="1"><stop offset="0" stop-color="#58b030"/><stop offset="1" stop-color="#2a8010"/></linearGradient>
<linearGradient id="tb" x1="0" y1="0" x2="0" y2="1"><stop offset="0" stop-color="#4878e0"/><stop offset="1" stop-color="#1840b0"/></linearGradient>
<radialGradient id="bub" cx="0.5" cy="0.3" r="0.8"><stop offset="0" stop-color="#ffffff"/><stop offset="1" stop-color="#d0d4dc"/></radialGradient>
</defs>
<rect x="0" y="11.5" width="2" height="3.5" fill="#10a010"/>
<path d="M59 2 L68.8 10.4 L60.6 16.8 L53 11.2 Z" fill="url(#gold)" stroke="#a87410" stroke-width="0.9" stroke-linejoin="round"/>
<path d="M53.4 11.6 L60.6 16.9 L68.8 10.6" fill="none" stroke="#8a5c08" stroke-width="1.3"/>
<path d="M59 2.4 Q57.5 7 54 10.8" fill="none" stroke="#fff3b0" stroke-width="0.9"/>
<path d="M83.2 2.6 L86.8 1 L94.2 1 L94.2 9.8 L86.8 9.8 L83.2 8.6 Z" fill="#1e90f4"/>
<path d="M86.8 1 L86.8 9.8" stroke="#a8dcff" stroke-width="1"/>
<rect x="88.6" y="5" width="4.2" height="1.4" fill="#cfeaff"/>
<path d="M84.6 16.6 Q81 16.6 81.4 13.6 Q81.8 11.6 84.2 11.8 Q84.8 9.2 88 9.4 Q90.6 9.6 91.4 11.4 Q93.6 10.4 95 12 Q97.4 12.6 96.6 15 Q96 16.8 93.6 16.6 Z" fill="url(#cloud)" stroke="#5878b0" stroke-width="1"/>
<circle cx="116.9" cy="8.7" r="7.8" fill="#dfe9ee"/>
<path d="M116.9 1.4999999999999991 A7.2 7.2 0 0 0 116.9 15.899999999999999" fill="none" stroke="#2860d8" stroke-width="0.9" opacity="0.45"/>
<path d="M116.9 1.4999999999999991 A7.2 7.2 0 0 1 120.5 14.963999999999999" fill="none" stroke="#58a868" stroke-width="0.9" opacity="0.36000000000000004"/>
<path d="M116.9 3.499999999999999 A5.2 5.2 0 0 0 116.9 13.899999999999999" fill="none" stroke="#2860d8" stroke-width="0.9" opacity="0.6"/>
<path d="M116.9 3.499999999999999 A5.2 5.2 0 0 1 119.5 13.224" fill="none" stroke="#58a868" stroke-width="0.9" opacity="0.48"/>
<path d="M116.9 5.499999999999999 A3.2 3.2 0 0 0 116.9 11.899999999999999" fill="none" stroke="#2860d8" stroke-width="0.9" opacity="0.8"/>
<path d="M116.9 5.499999999999999 A3.2 3.2 0 0 1 118.5 11.484" fill="none" stroke="#58a868" stroke-width="0.9" opacity="0.6400000000000001"/>
<path d="M117.2 8.7 L117.2 16.7 Q121.9 15.7 123.5 12.2" fill="none" stroke="#20a030" stroke-width="1.3"/>
<circle cx="116.9" cy="8.7" r="1.5" fill="#1850d0"/>
<path d="M138.5 7.5 L150 7.5 L150.5 12 L144.5 16.6 Z" fill="url(#face)" stroke="#c89810" stroke-width="0.7"/>
<ellipse cx="144.2" cy="5.6" rx="7.6" ry="2.6" fill="url(#hat)" stroke="#2a70b0" stroke-width="0.6"/>
<path d="M140.4 5 Q140.6 1 144.2 1 Q147.8 1 148 5 Z" fill="#6ab4e8" stroke="#2a70b0" stroke-width="0.6"/>
<circle cx="148.3" cy="12.9" r="4.2" fill="#e02010" stroke="#b01008" stroke-width="0.6"/>
<rect x="146.5" y="11.1" width="3.6" height="3.6" fill="#fff"/>
<g shape-rendering="crispEdges" fill="#4a4a4a"><rect x="230" y="4" width="1" height="13"/><rect x="228" y="14" width="13" height="1"/></g><path d="M230.5 2.6 L232.6 5.4 L228.4 5.4 Z" fill="#4a4a4a"/><path d="M242.4 14.5 L239.6 12.4 L239.6 16.6 Z" fill="#4a4a4a"/>
<g shape-rendering="crispEdges" fill="#008000"><rect x="236" y="4" width="1" height="9"/><rect x="236" y="5" width="3" height="1"/><rect x="234" y="11" width="3" height="1"/></g>
<g shape-rendering="crispEdges" fill="#4a4a4a"><rect x="258" y="4" width="1" height="13"/><rect x="256" y="14" width="13" height="1"/></g><path d="M258.5 2.6 L260.6 5.4 L256.4 5.4 Z" fill="#4a4a4a"/><path d="M270.4 14.5 L267.6 12.4 L267.6 16.6 Z" fill="#4a4a4a"/>
<g shape-rendering="crispEdges"><rect x="264" y="1" width="1" height="12" fill="#008000"/><rect x="262" y="3" width="5" height="8" fill="#008000"/></g><rect x="263" y="4" width="3" height="6" fill="url(#grn)"/>
<g shape-rendering="crispEdges" fill="#4a4a4a"><rect x="286" y="4" width="1" height="13"/><rect x="284" y="14" width="13" height="1"/></g><path d="M286.5 2.6 L288.6 5.4 L284.4 5.4 Z" fill="#4a4a4a"/><path d="M298.4 14.5 L295.6 12.4 L295.6 16.6 Z" fill="#4a4a4a"/>
<path d="M285 11.8 Q288 9.4 290 7.2 Q291.4 5.8 293 7 Q295 9 296.8 10.4" fill="none" stroke="#108010" stroke-width="1.2"/>
<path d="M326 11 L331.2 16.2" stroke="#a88a10" stroke-width="3" stroke-linecap="round"/><path d="M326.2 10.6 L330.8 15.2" stroke="#f0d850" stroke-width="1.2" stroke-linecap="round"/><circle cx="322" cy="6.8" r="5.4" fill="url(#lens)" stroke="#3c7cc8" stroke-width="1.1"/><rect x="319" y="6" width="6" height="1.7" fill="#2f6fb0"/><rect x="321.15" y="3.8" width="1.7" height="6" fill="#2f6fb0"/>
<path d="M354.2 11 L359.4 16.2" stroke="#a88a10" stroke-width="3" stroke-linecap="round"/><path d="M354.4 10.6 L359.0 15.2" stroke="#f0d850" stroke-width="1.2" stroke-linecap="round"/><circle cx="350.2" cy="6.8" r="5.4" fill="url(#lens)" stroke="#3c7cc8" stroke-width="1.1"/><rect x="347.2" y="6" width="6" height="1.7" fill="#2f6fb0"/>
<rect x="372.2" y="1.2" width="7.6" height="7.6" rx="0.8" fill="url(#tg)"/><rect x="373.59999999999997" y="4.2" width="5" height="3.4" fill="#eef4ff"/><rect x="373.2" y="2.2" width="1.2" height="1" fill="#eef4ff"/><rect x="380.2" y="1.2" width="7.6" height="7.6" rx="0.8" fill="url(#tb)"/><rect x="381.59999999999997" y="4.2" width="5" height="3.4" fill="#eef4ff"/><rect x="381.2" y="2.2" width="1.2" height="1" fill="#eef4ff"/><rect x="372.2" y="9.2" width="7.6" height="7.6" rx="0.8" fill="url(#tb)"/><rect x="373.59999999999997" y="12.2" width="5" height="3.4" fill="#eef4ff"/><rect x="373.2" y="10.2" width="1.2" height="1" fill="#eef4ff"/><rect x="380.2" y="9.2" width="7.6" height="7.6" rx="0.8" fill="url(#tg)"/><rect x="381.59999999999997" y="12.2" width="5" height="3.4" fill="#eef4ff"/><rect x="381.2" y="10.2" width="1.2" height="1" fill="#eef4ff"/>
<g shape-rendering="crispEdges" fill="#4a4a4a"><rect x="410" y="4" width="1" height="13"/><rect x="408" y="14" width="13" height="1"/></g><path d="M410.5 2.6 L412.6 5.4 L408.4 5.4 Z" fill="#4a4a4a"/><path d="M422.4 14.5 L419.6 12.4 L419.6 16.6 Z" fill="#4a4a4a"/>
<path d="M415.2 5.2 L419.4 8.6 L415.2 12 Z" fill="#7ff07f" stroke="#109010" stroke-width="1"/>
<g shape-rendering="crispEdges" fill="#4a4a4a"><rect x="438" y="4" width="1" height="13"/><rect x="436" y="14" width="13" height="1"/></g><path d="M438.5 2.6 L440.6 5.4 L436.4 5.4 Z" fill="#4a4a4a"/><path d="M450.4 14.5 L447.6 12.4 L447.6 16.6 Z" fill="#4a4a4a"/>
<rect x="444" y="3" width="1" height="10" fill="#1c6c9c" shape-rendering="crispEdges"/>
<path d="M445.4 8.6 L448.4 6.4 L448 8.1 L450.2 8.1 L450.2 9.1 L448 9.1 L448.4 10.8 Z" fill="#e04000"/>
<path d="M469.5 1.8 L477.6 1.8 L480.6 4.8 L480.6 14.2 L469.5 14.2 Z" fill="#fafafa" stroke="#8c8c8c" stroke-width="0.9"/>
<path d="M477.6 1.8 L477.6 4.8 L480.6 4.8" fill="#e0e0e0" stroke="#8c8c8c" stroke-width="0.7"/>
<path d="M474.6 4.6 Q472.8 4.2 472.8 6.2 L472.8 11.6 M471.6 7.4 L474.2 7.4" fill="none" stroke="#505050" stroke-width="0.9"/>
<path d="M476.8 8 L480.8 8 L480.8 11.2 L484.6 11.2 L484.6 15 L480.8 15 L480.8 18.4 L476.8 18.4 L476.8 15 L473.6 15 L473.6 11.2 L476.8 11.2 Z" fill="#30d030" stroke="#108810" stroke-width="0.9"/>
<path d="M490.6 8 L496.20000000000005 8 L493.40000000000003 11.2 Z" fill="#000"/>
<circle cx="515.1" cy="8.8" r="7.1" fill="#fff" stroke="url(#clk)" stroke-width="2"/>
<path d="M515.1 4.6 L515.1 9 L518.2 9" fill="none" stroke="#202020" stroke-width="1.1"/>
<rect x="514" y="12.6" width="2.4" height="0.9" fill="#9ac8f0"/>
<path d="M530 8 L535.6 8 L532.8 11.2 Z" fill="#000"/>
<rect x="546.6" y="2.6" width="15" height="13" fill="#fff" stroke="#2e66b8" stroke-width="1"/>
<rect x="546.6" y="2.6" width="15" height="2.2" fill="#3a78d0"/>
<rect x="547" y="9.6" width="14" height="0.9" fill="#3a78d0"/>
<path d="M548.6 8.4 L551 7.6 L552.6 6.6 L554.4 7.2 L556.4 6.4 L558 7 L559.8 6.2" fill="none" stroke="#a01808" stroke-width="1.1"/>
<path d="M548.8 13.6 L551 13 L552.6 13.8 L554.6 12.4 L556.2 11.4 L557.6 12.6 L559.6 13.8" fill="none" stroke="#188028" stroke-width="1.1"/>
<path d="M568.8 8 L574.4 8 L571.5999999999999 11.2 Z" fill="#000"/>
<path d="M598.2 2.2 L598.2 13.8 L600.8 11.4 L603 16.2 L604.8 15.4 L602.6 10.8 L606.2 10.6 Z" fill="#4a4a4a"/>
<g shape-rendering="crispEdges" fill="#4a4a4a"><rect x="623" y="9" width="6" height="1"/><rect x="632" y="9" width="6" height="1"/><rect x="630" y="2" width="1" height="6"/><rect x="630" y="11" width="1" height="6"/><rect x="630" y="9" width="1" height="1" fill="#909090"/></g>
<g shape-rendering="crispEdges" fill="#4a4a4a"><rect x="664" y="3" width="1" height="13"/><rect x="687" y="9" width="12" height="1"/></g>
<path d="M714.8 16 L727 3.8" stroke="#4a4a4a" stroke-width="1.1"/>
<g stroke="#4a4a4a" stroke-width="1" fill="none"><path d="M740.6 11 L750.6 2.6"/><path d="M741.6 14 L754 4"/><path d="M745 15.6 L755 8"/><path d="M744.2 7.4 L746 13.2 M747.2 5 L749 10.8 M750.4 3.4 L752.2 8.6 M753.4 1.6 L754.2 6.4" stroke-width="0.8"/></g>
<text x="751.6" y="17.8" font-family="Liberation Sans" font-weight="bold" font-size="6.4" fill="#303030">E</text>
<line x1="770" y1="2.5" x2="783.4" y2="2.5" stroke="#4a4a4a" stroke-width="1" stroke-dasharray="1 1" shape-rendering="crispEdges"/>
<line x1="770" y1="5.5" x2="783.4" y2="5.5" stroke="#4a4a4a" stroke-width="1" stroke-dasharray="1 1" shape-rendering="crispEdges"/>
<line x1="770" y1="9.5" x2="783.4" y2="9.5" stroke="#4a4a4a" stroke-width="1" stroke-dasharray="1 1" shape-rendering="crispEdges"/>
<line x1="770" y1="13.5" x2="778.5" y2="13.5" stroke="#4a4a4a" stroke-width="1" stroke-dasharray="1 1" shape-rendering="crispEdges"/>
<text x="779.6" y="17.8" font-family="Liberation Sans" font-weight="bold" font-size="6.4" fill="#303030">F</text>
<text x="800.2" y="14" font-family="Liberation Sans" font-weight="bold" font-size="12" fill="#5a5a5a">A</text>
<rect x="827.5" y="3.5" width="11" height="12" fill="none" stroke="#4a4a4a" stroke-width="1" stroke-dasharray="1 1" shape-rendering="crispEdges"/>
<path d="M829 6.4 L836.6 6.4 L836.6 7.8 L833.6 7.8 L833.6 13.6 L832 13.6 L832 7.8 L829 7.8 Z" fill="#4a4a4a"/>
<path d="M857.5 2.6 L860.4 5.3 L857.5 8 L854.6 5.3 Z" fill="#4a4a4a"/>
<path d="M864.6 9.8 L868 12.5 L864.6 15.4 L861.2 12.5 Z" fill="#4a4a4a"/>
<path d="M856 9.4 L858.2 11.8 L862.4 7" fill="none" stroke="#4a4a4a" stroke-width="1.3"/>
<path d="M874.6 8 L880.2 8 L877.4 11.2 Z" fill="#000"/>
<circle cx="1617.4" cy="5.8" r="3.7" fill="#f6f8ff" stroke="#2a5cd0" stroke-width="1.3"/>
<path d="M1614.6 8.6 L1609.8 13.8" stroke="#2a5cd0" stroke-width="2.4" stroke-linecap="round"/>
<path d="M1646 10.4 Q1643.4 8.6 1643.6 5.8 Q1644 1.4 1650.2 1.4 Q1656.6 1.4 1656.8 5.8 Q1656.8 9.6 1653.6 10.2 L1654 12.6 L1651.6 10.4 Z" fill="url(#bub)" stroke="#909098" stroke-width="0.8"/>
<path d="M1638.4 13.6 Q1636 12.4 1636.2 10 Q1636.6 6.2 1641.4 6.2 Q1646.4 6.2 1646.4 10 Q1646.2 13.6 1641.6 13.8 L1638.8 15.8 Z" fill="url(#bub)" stroke="#909098" stroke-width="0.8"/>
<g shape-rendering="crispEdges" fill="#c0c0c0"><rect x="1334" y="26" width="9" height="1"/><rect x="1335" y="27" width="7" height="1"/><rect x="1336" y="28" width="5" height="1"/><rect x="1337" y="29" width="3" height="1"/><rect x="1338" y="30" width="1" height="1"/></g></svg>
</body></html>
